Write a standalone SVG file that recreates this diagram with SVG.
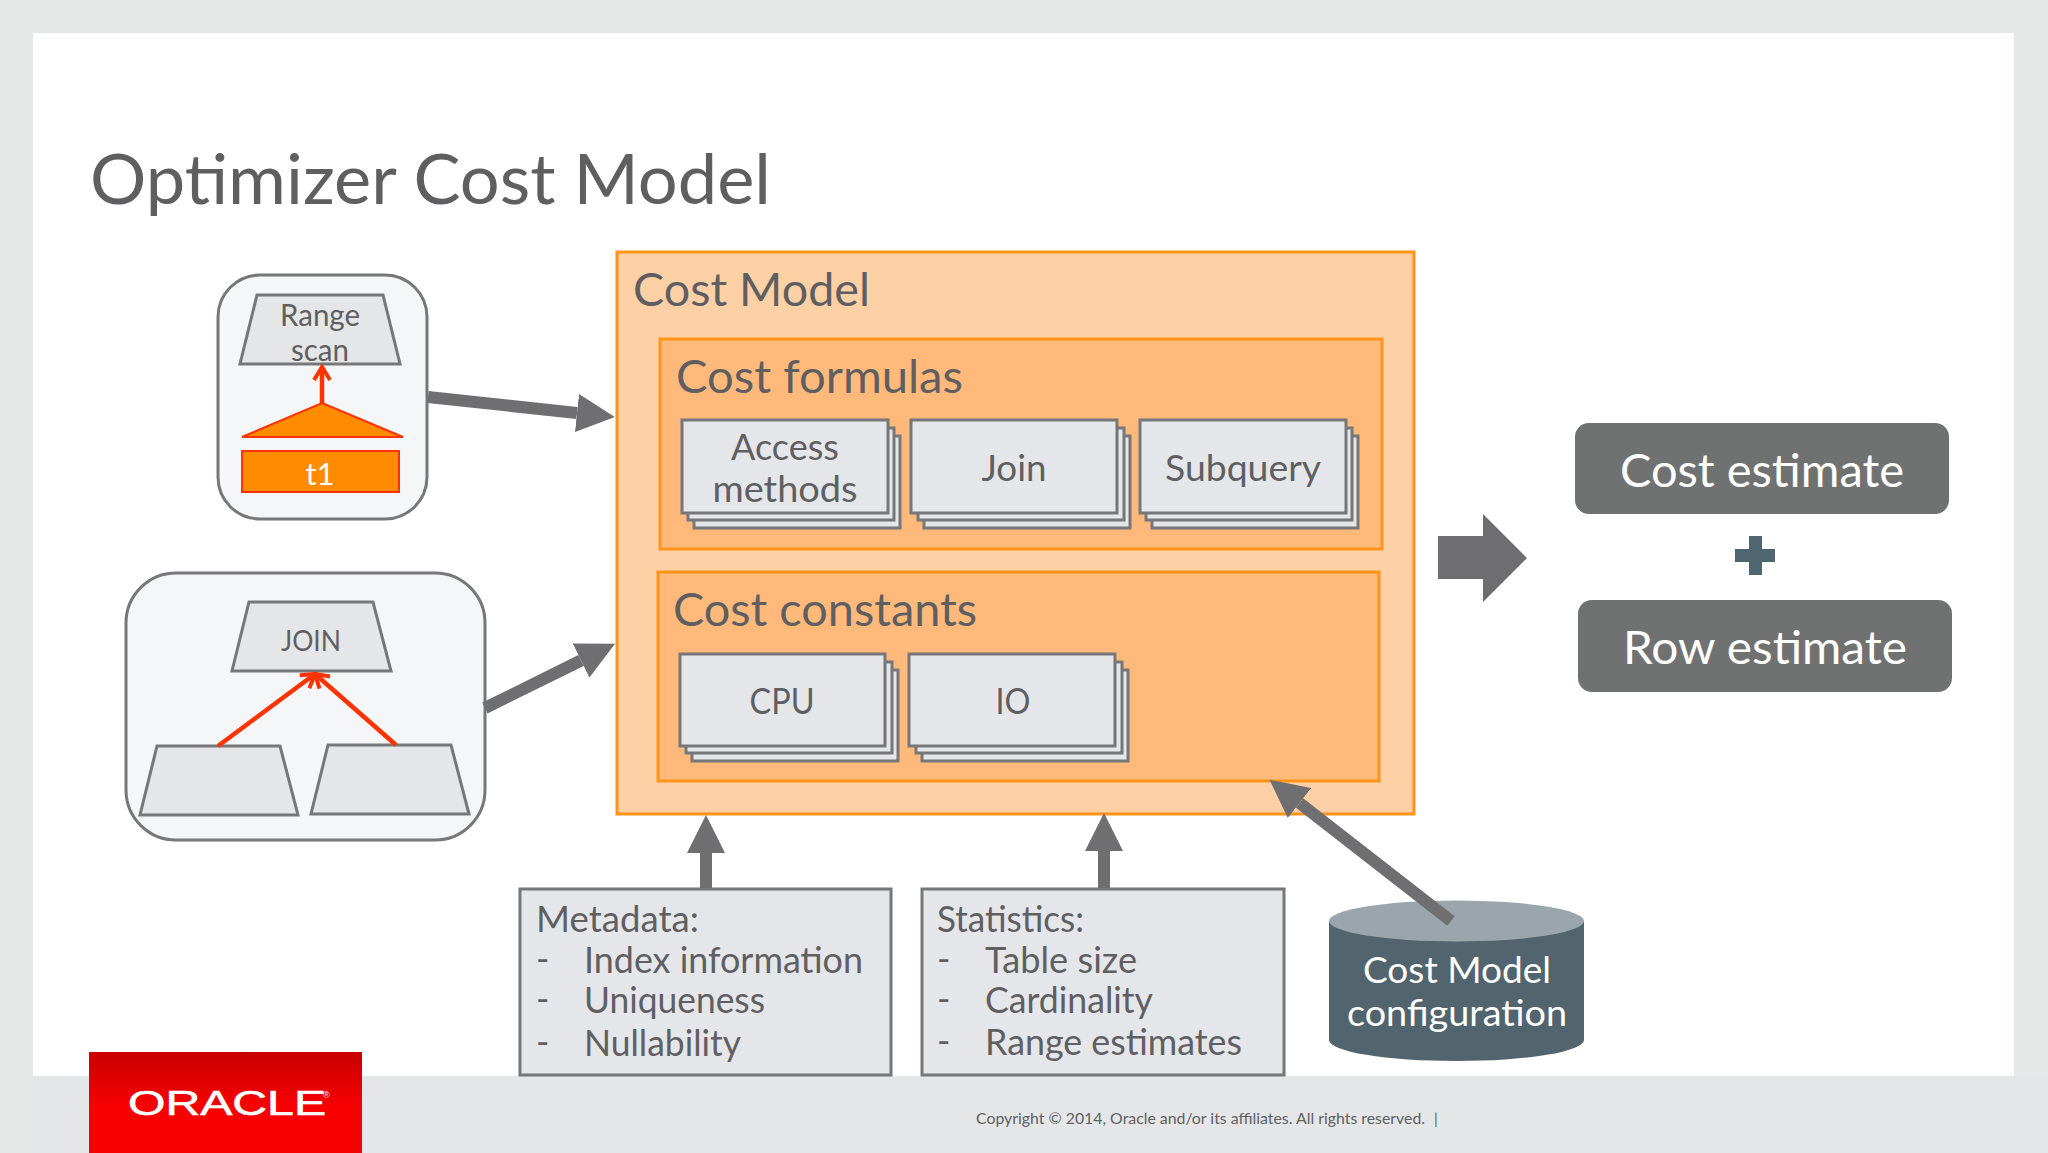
<svg xmlns="http://www.w3.org/2000/svg" width="2048" height="1153" viewBox="0 0 2048 1153">
<style>
text{font-family:"Lato","Open Sans","Liberation Sans",sans-serif;fill:#5f5f62}
.c{text-anchor:middle}
.w{fill:#fff}
.panel{fill:#f5f6f7;stroke:#77777a;stroke-width:3}
.trap{fill:#e4e6e7;stroke:#77777a;stroke-width:3}
.outer{fill:#fed0a6;stroke:#ff9419;stroke-width:3}
.inner{fill:#ffb97a;stroke:#ff9419;stroke-width:3}
.sheet{fill:#e4e6e9;stroke:#77777a;stroke-width:3}
.info{fill:#e4e6e9;stroke:#77777a;stroke-width:3}
.result{fill:#707272}
.gray{stroke:#6f6f72;stroke-width:12;fill:none;marker-end:url(#grayHead)}
.red{stroke:#ff3300;stroke-width:4.5;fill:none;marker-end:url(#redHead)}
.l44{font-size:46px}.l34{font-size:36px}.l30{font-size:31px}.l27{font-size:28px}
</style>
<defs>
<marker id="grayHead" markerUnits="userSpaceOnUse" markerWidth="38" markerHeight="38" viewBox="0 0 38 38" refX="0" refY="19" orient="auto"><polygon points="0,0 38,19 0,38" fill="#6f6f72"/></marker>
<marker id="redHead" markerUnits="userSpaceOnUse" markerWidth="22" markerHeight="22" viewBox="0 0 22 22" refX="19" refY="11" orient="auto"><path d="M6,3 L19,11 L6,19" fill="none" stroke="#ff3300" stroke-width="4"/></marker>
<linearGradient id="oracleFill" x1="0" y1="0" x2="0" y2="1"><stop offset="0" stop-color="#c80000"/><stop offset="0.55" stop-color="#f80000"/><stop offset="1" stop-color="#f80000"/></linearGradient>
</defs>

<g id="background">
<rect width="2048" height="1153" fill="#e4e8e7"/>
<rect x="33" y="33" width="1981" height="1043" fill="#fff"/>
<rect x="33" y="1076" width="2015" height="77" fill="#e4e6e7"/>
</g>

<text id="title" x="90" y="204" font-size="70" textLength="681" lengthAdjust="spacingAndGlyphs">Optimizer Cost Model</text>

<g id="range-scan-plan">
<rect class="panel" x="218" y="275" width="209" height="244" rx="42"/>
<polygon class="trap" points="257,295 383,295 400,364 240,364"/>
<text class="c l30" x="320" y="326" textLength="80" lengthAdjust="spacingAndGlyphs">Range</text>
<text class="c l30" x="320" y="361" textLength="58" lengthAdjust="spacingAndGlyphs">scan</text>
<polygon points="322,403 403,437 242,437" fill="#ff8c00" stroke="#ff3300" stroke-width="2"/>
<rect x="242" y="451" width="157" height="41" fill="#ff8c00" stroke="#ff3300" stroke-width="2"/>
<text class="c l30 w" x="320" y="485">t1</text>
</g>

<g id="join-plan">
<rect class="panel" x="126" y="573" width="359" height="267" rx="50"/>
<polygon class="trap" points="249,602 373,602 391,671 232,671"/>
<text class="c l27" x="311" y="651" textLength="60" lengthAdjust="spacingAndGlyphs">JOIN</text>
<polygon class="trap" points="157,746 280,746 298,815 140,815"/>
<polygon class="trap" points="328,745 451,745 469,814 311,814"/>
</g>

<g id="cost-model">
<rect class="outer" x="617" y="252" width="797" height="562"/>
<text class="l44" x="633" y="306" textLength="237" lengthAdjust="spacingAndGlyphs">Cost Model</text>
</g>

<g id="cost-formulas">
<rect class="inner" x="660" y="339" width="722" height="210"/>
<text class="l44" x="676" y="393" textLength="287" lengthAdjust="spacingAndGlyphs">Cost formulas</text>
</g>

<g id="access-methods">
<rect class="sheet" x="694" y="436" width="206" height="92"/>
<rect class="sheet" x="688" y="428" width="206" height="92"/>
<rect class="sheet" x="682" y="420" width="206" height="93"/>
<text class="c l34" x="785" y="460" textLength="108" lengthAdjust="spacingAndGlyphs">Access</text>
<text class="c l34" x="785" y="502" textLength="145" lengthAdjust="spacingAndGlyphs">methods</text>
</g>

<g id="join">
<rect class="sheet" x="924" y="436" width="206" height="92"/>
<rect class="sheet" x="918" y="428" width="206" height="92"/>
<rect class="sheet" x="911" y="420" width="206" height="93"/>
<text class="c l34" x="1014" y="481" textLength="65" lengthAdjust="spacingAndGlyphs">Join</text>
</g>

<g id="subquery">
<rect class="sheet" x="1152" y="436" width="206" height="92"/>
<rect class="sheet" x="1146" y="428" width="206" height="92"/>
<rect class="sheet" x="1140" y="420" width="206" height="93"/>
<text class="c l34" x="1243" y="481" textLength="156" lengthAdjust="spacingAndGlyphs">Subquery</text>
</g>

<g id="cost-constants">
<rect class="inner" x="658" y="572" width="721" height="209"/>
<text class="l44" x="673" y="626" textLength="304" lengthAdjust="spacingAndGlyphs">Cost constants</text>
</g>

<g id="cpu">
<rect class="sheet" x="692" y="670" width="206" height="91"/>
<rect class="sheet" x="686" y="662" width="206" height="91"/>
<rect class="sheet" x="680" y="654" width="205" height="92"/>
<text class="c l34" x="782" y="714" textLength="65" lengthAdjust="spacingAndGlyphs">CPU</text>
</g>

<g id="io">
<rect class="sheet" x="922" y="670" width="206" height="91"/>
<rect class="sheet" x="916" y="662" width="206" height="91"/>
<rect class="sheet" x="909" y="654" width="206" height="92"/>
<text class="c l34" x="1013" y="714" textLength="35" lengthAdjust="spacingAndGlyphs">IO</text>
</g>

<g id="metadata">
<rect class="info" x="520" y="889" width="371" height="186"/>
<text class="l34" x="536" y="932" textLength="163" lengthAdjust="spacingAndGlyphs">Metadata:</text>
<text class="l34" x="536" y="972">-</text><text class="l34" x="584" y="973" textLength="279" lengthAdjust="spacingAndGlyphs">Index information</text>
<text class="l34" x="536" y="1012">-</text><text class="l34" x="584" y="1013" textLength="181" lengthAdjust="spacingAndGlyphs">Uniqueness</text>
<text class="l34" x="536" y="1055">-</text><text class="l34" x="584" y="1056" textLength="157" lengthAdjust="spacingAndGlyphs">Nullability</text>
</g>

<g id="statistics">
<rect class="info" x="922" y="889" width="362" height="186"/>
<text class="l34" x="937" y="932" textLength="147" lengthAdjust="spacingAndGlyphs">Statistics:</text>
<text class="l34" x="937" y="972">-</text><text class="l34" x="985" y="973" textLength="152" lengthAdjust="spacingAndGlyphs">Table size</text>
<text class="l34" x="937" y="1012">-</text><text class="l34" x="985" y="1013" textLength="168" lengthAdjust="spacingAndGlyphs">Cardinality</text>
<text class="l34" x="937" y="1054">-</text><text class="l34" x="985" y="1055" textLength="257" lengthAdjust="spacingAndGlyphs">Range estimates</text>
</g>

<g id="cost-model-configuration">
<path d="M1329,921 V1040 A127.5,21 0 0 0 1584,1040 V921 Z" fill="#52646d"/>
<ellipse cx="1456.5" cy="921" rx="127.5" ry="20.5" fill="#9aa6ab"/>
<text class="c l34 w" x="1457" y="983" textLength="188" lengthAdjust="spacingAndGlyphs">Cost Model</text>
<text class="c l34 w" x="1457" y="1026" textLength="220" lengthAdjust="spacingAndGlyphs">configuration</text>
</g>

<g id="output-arrow"><polygon points="1438,536 1483,536 1483,514 1527,558 1483,602 1483,579 1438,579" fill="#6e6e70"/></g>

<g id="cost-estimate">
<rect class="result" x="1575" y="423" width="374" height="91" rx="14"/>
<text class="c l44 w" x="1762" y="487" textLength="284" lengthAdjust="spacingAndGlyphs">Cost estimate</text>
</g>

<g id="plus"><polygon points="1749,536 1762,536 1762,549 1775,549 1775,562 1762,562 1762,575 1749,575 1749,562 1735,562 1735,549 1749,549" fill="#4f6670"/></g>

<g id="row-estimate">
<rect class="result" x="1578" y="600" width="374" height="92" rx="14"/>
<text class="c l44 w" x="1765" y="664" textLength="284" lengthAdjust="spacingAndGlyphs">Row estimate</text>
</g>

<g id="connectors">
<line class="gray" x1="428" y1="397" x2="577" y2="413"/>
<line class="gray" x1="485" y1="708" x2="581" y2="660.5"/>
<line class="gray" x1="706" y1="888" x2="706" y2="853"/>
<line class="gray" x1="1104" y1="888" x2="1104" y2="851"/>
<line class="gray" x1="1451" y1="921" x2="1299.5" y2="803"/>
<line class="red" x1="322" y1="403" x2="322" y2="367"/>
<line class="red" x1="218" y1="746" x2="315" y2="674"/>
<line class="red" x1="396" y1="745" x2="315" y2="674"/>
</g>

<g id="oracle-logo">
<rect x="89" y="1052" width="273" height="101" fill="url(#oracleFill)"/>
<text x="128" y="1115" font-size="35" textLength="198" lengthAdjust="spacingAndGlyphs" style="font-family:'Liberation Sans',sans-serif;fill:#fff;stroke:#fff;stroke-width:.6">ORACLE</text>
<text x="323" y="1098" font-size="9" style="font-family:'Liberation Sans',sans-serif;fill:#fff">®</text>
</g>

<g id="footer">
<text x="976" y="1124" font-size="15" textLength="449" lengthAdjust="spacingAndGlyphs">Copyright © 2014, Oracle and/or its affiliates. All rights reserved.</text>
<text x="1434" y="1124" font-size="15">|</text>
</g>
</svg>
